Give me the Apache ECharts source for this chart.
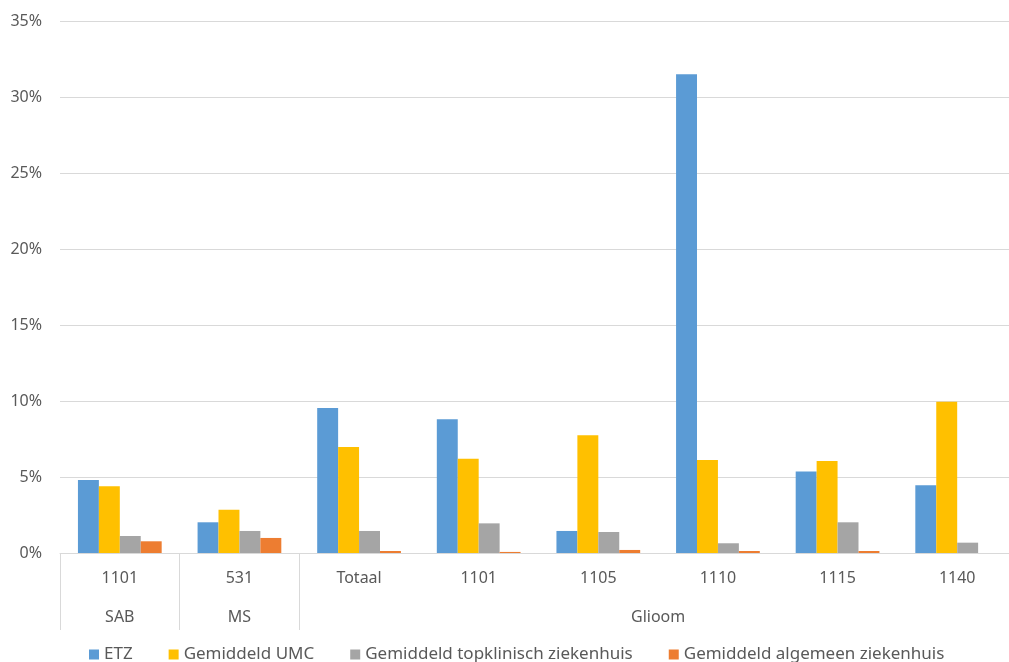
<!DOCTYPE html>
<html>
<head>
<meta charset="utf-8">
<script src="https://cdn.jsdelivr.net/npm/echarts@6/dist/echarts.min.js"></script>
<style>html,body{margin:0;padding:0;background:#fff;}#c{width:1009px;height:662px;}</style>
</head>
<body>
<div id="c"></div>
<script>
const categories = ['1101', '531', 'Totaal', '1101', '1105', '1110', '1115', '1140'];
const groupLabels = ['SAB', 'MS', 'Glioom'];
const groupCenters = [0.5, 1.5, 5];
const groupBounds = [0, 1, 2, 8];
const seriesNames = ['ETZ', 'Gemiddeld UMC', 'Gemiddeld topklinisch ziekenhuis', 'Gemiddeld algemeen ziekenhuis'];
const etz = [4.8, 2.02, 9.54, 8.8, 1.45, 31.5, 5.37, 4.45];
const umc = [4.39, 2.85, 6.97, 6.2, 7.74, 6.12, 6.05, 9.95];
const topklinisch = [1.12, 1.45, 1.45, 1.95, 1.38, 0.64, 2.02, 0.68];
const algemeen = [0.77, 0.99, 0.13, 0.07, 0.2, 0.13, 0.13, 0];
const colors = ['#5B9BD5', '#FFC000', '#A5A5A5', '#ED7D31'];
const yTicks = { min: 0, max: 35, interval: 5 };

const font = "'Noto Sans', sans-serif";
const txt = '#595959';
const chart = echarts.init(document.getElementById('c'));
const allData = [etz, umc, topklinisch, algemeen];
chart.setOption({
  animation: false,
  color: colors,
  textStyle: { fontFamily: font },
  grid: { left: 60, width: 957, top: 21, height: 532, outerBoundsMode: 'none', containLabel: false },
  legend: {
    top: 641, left: 84,
    itemWidth: 10, itemHeight: 10, itemGap: 36,
    icon: 'rect',
    textStyle: { color: txt, fontSize: 17, fontFamily: font },
    data: seriesNames
  },
  xAxis: [
    {
      type: 'category', data: categories,
      axisLine: { show: true, lineStyle: { color: '#d9d9d9', width: 1 } },
      axisTick: { show: false },
      axisLabel: { color: txt, fontSize: 16, margin: 17, fontFamily: font, interval: 0 }
    },
    {
      type: 'value', min: 0, max: 8, position: 'bottom',
      axisLine: { show: false },
      splitLine: { show: false },
      axisTick: { show: true, customValues: groupBounds, length: 77, lineStyle: { color: '#d9d9d9' } },
      axisLabel: {
        customValues: groupCenters, color: txt, fontSize: 16, margin: 56, fontFamily: font,
        formatter: function (v) { const i = groupCenters.indexOf(v); return i >= 0 ? groupLabels[i] : ''; }
      }
    }
  ],
  yAxis: {
    type: 'value', min: yTicks.min, max: yTicks.max, interval: yTicks.interval,
    axisLine: { show: false }, axisTick: { show: false },
    splitLine: { lineStyle: { color: '#d9d9d9', width: 1 } },
    axisLabel: { color: txt, fontSize: 16, margin: 18, formatter: '{value}%', fontFamily: font }
  },
  series: seriesNames.map((n, i) => ({
    name: n, type: 'bar', xAxisIndex: 0, data: allData[i],
    barGap: '0%', barCategoryGap: '30%',
    itemStyle: { color: colors[i] }
  }))
});
</script>
</body>
</html>
